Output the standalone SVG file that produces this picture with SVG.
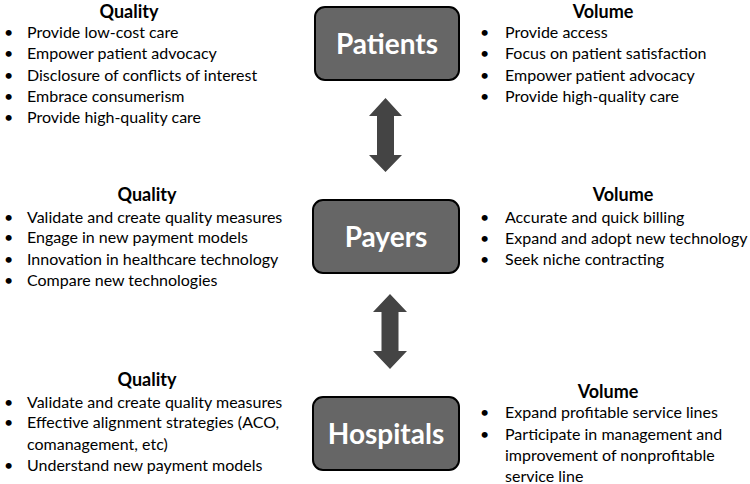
<svg xmlns="http://www.w3.org/2000/svg" width="750" height="484" viewBox="0 0 750 484">
<style>
text{font-family:Lato,"Open Sans","Liberation Sans",sans-serif;fill:#000}
.t{font-size:18px;font-weight:bold;text-anchor:middle}
.b{font-size:16px}
.n{fill:#666;stroke:#000;stroke-width:2}
.nl{font-size:28px;font-weight:bold;fill:#fff;text-anchor:middle}
.a{fill:#444}
</style>
<g id="connectors">
<polygon class="a" points="385.5,98 402,116 394,116 394,155 402,155 385.5,172 369,155 377,155 377,116 369,116"/>
<polygon class="a" points="390,294 407,312 398.5,312 398.5,351 407,351 390,369 373,351 381.5,351 381.5,312 373,312"/>
</g>
<g id="patients">
<rect class="n" x="315" y="7" width="144" height="73" rx="10"/>
<text class="nl" x="387" y="54">Patients</text>
</g>
<g id="payers">
<rect class="n" x="313" y="200" width="146" height="73" rx="10"/>
<text class="nl" x="386" y="247">Payers</text>
</g>
<g id="hospitals">
<rect class="n" x="313" y="397" width="146" height="73" rx="10"/>
<text class="nl" x="386" y="444">Hospitals</text>
</g>
<g id="patients-quality">
<text class="t" x="129" y="18">Quality</text>
<g class="b">
<text x="4" y="38">•</text><text x="27" y="38">Provide low-cost care</text>
<text x="4" y="59">•</text><text x="27" y="59">Empower patient advocacy</text>
<text x="4" y="81">•</text><text x="27" y="81">Disclosure of conflicts of interest</text>
<text x="4" y="102">•</text><text x="27" y="102">Embrace consumerism</text>
<text x="4" y="123">•</text><text x="27" y="123">Provide high-quality care</text>
</g>
</g>
<g id="patients-volume">
<text class="t" x="603" y="18">Volume</text>
<g class="b">
<text x="480" y="38">•</text><text x="505" y="38">Provide access</text>
<text x="480" y="59">•</text><text x="505" y="59">Focus on patient satisfaction</text>
<text x="480" y="81">•</text><text x="505" y="81">Empower patient advocacy</text>
<text x="480" y="102">•</text><text x="505" y="102">Provide high-quality care</text>
</g>
</g>
<g id="payers-quality">
<text class="t" x="147" y="201">Quality</text>
<g class="b">
<text x="4" y="223">•</text><text x="27" y="223">Validate and create quality measures</text>
<text x="4" y="243">•</text><text x="27" y="243">Engage in new payment models</text>
<text x="4" y="265">•</text><text x="27" y="265">Innovation in healthcare technology</text>
<text x="4" y="286">•</text><text x="27" y="286">Compare new technologies</text>
</g>
</g>
<g id="payers-volume">
<text class="t" x="623" y="201">Volume</text>
<g class="b">
<text x="480" y="223">•</text><text x="505" y="223">Accurate and quick billing</text>
<text x="480" y="244">•</text><text x="505" y="244">Expand and adopt new technology</text>
<text x="480" y="265">•</text><text x="505" y="265">Seek niche contracting</text>
</g>
</g>
<g id="hospitals-quality">
<text class="t" x="147" y="386">Quality</text>
<g class="b">
<text x="4" y="408">•</text><text x="27" y="408">Validate and create quality measures</text>
<text x="4" y="428">•</text><text x="27" y="428">Effective alignment strategies (ACO,</text>
<text x="27" y="450">comanagement, etc)</text>
<text x="4" y="471">•</text><text x="27" y="471">Understand new payment models</text>
</g>
</g>
<g id="hospitals-volume">
<text class="t" x="608" y="398">Volume</text>
<g class="b">
<text x="480" y="418">•</text><text x="505" y="418">Expand profitable service lines</text>
<text x="480" y="440">•</text><text x="505" y="440">Participate in management and</text>
<text x="505" y="461">improvement of nonprofitable</text>
<text x="505" y="482">service line</text>
</g>
</g>
</svg>
